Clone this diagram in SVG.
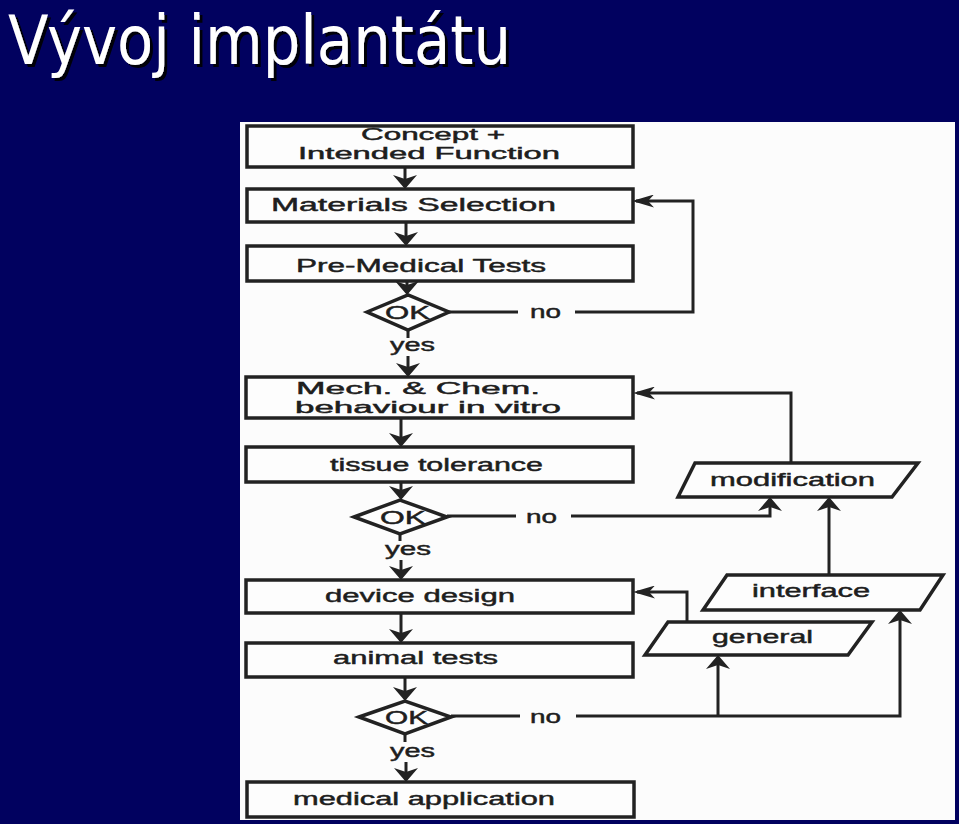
<svg xmlns="http://www.w3.org/2000/svg" width="959" height="824" viewBox="0 0 959 824">
<style>
.box{fill:#fdfdfd;stroke:#222;stroke-width:3.5}
.ln{fill:none;stroke:#222;stroke-width:3}
.t{font-family:"Liberation Sans",Arial,sans-serif;font-size:18px;fill:#1e1e1e;stroke:#1e1e1e;stroke-width:0.45}
.t2{font-size:16px}
.title{font-family:"DejaVu Sans",Verdana,sans-serif;font-size:68px;fill:#fff}
</style>
<defs>
<filter id="shadow" x="-5%" y="-20%" width="110%" height="140%">
<feDropShadow dx="3" dy="3" stdDeviation="0.6" flood-color="#000" flood-opacity="0.9"/>
</filter>
<marker id="av" markerUnits="userSpaceOnUse" viewBox="0 0 14 24" markerWidth="14" markerHeight="24" refX="12" refY="12" orient="auto">
<path d="M0,0 L14,12 L0,24 L4,12 z" fill="#222"/>
</marker>
<marker id="ah" markerUnits="userSpaceOnUse" viewBox="0 0 22 13" markerWidth="22" markerHeight="13" refX="18" refY="6.5" orient="auto">
<path d="M0,0 L22,6.5 L0,13 L6,6.5 z" fill="#222"/>
</marker>
</defs>
<rect x="0" y="0" width="959" height="824" fill="#01015f"/>
<g id="title">
<text class="title" x="8" y="64" textLength="503" lengthAdjust="spacingAndGlyphs" filter="url(#shadow)">Vývoj implantátu</text>
</g>
<rect x="240" y="122" width="715" height="698" fill="#fcfcfc"/>
<g id="connectors">
<path class="ln" d="M405,167 V187" marker-end="url(#av)"/>
<path class="ln" d="M406,222 V244" marker-end="url(#av)"/>
<path class="ln" d="M407,281 V293" marker-end="url(#av)"/>
<path class="ln" d="M408,330 V338"/>
<path class="ln" d="M408,356 V375" marker-end="url(#av)"/>
<path class="ln" d="M449,312 H518"/>
<path class="ln" d="M575,312 H693 V201 H636" marker-end="url(#ah)"/>
<path class="ln" d="M401,418 V445" marker-end="url(#av)"/>
<path class="ln" d="M401,482 V498" marker-end="url(#av)"/>
<path class="ln" d="M400,534 V541"/>
<path class="ln" d="M401,560 V578" marker-end="url(#av)"/>
<path class="ln" d="M447,516 H516"/>
<path class="ln" d="M571,516 H770 V499" marker-end="url(#av)"/>
<path class="ln" d="M791,463 V393 H637" marker-end="url(#ah)"/>
<path class="ln" d="M829,575 V499" marker-end="url(#av)"/>
<path class="ln" d="M401,613 V641" marker-end="url(#av)"/>
<path class="ln" d="M405,677 V699" marker-end="url(#av)"/>
<path class="ln" d="M405,734 V742"/>
<path class="ln" d="M406,762 V780" marker-end="url(#av)"/>
<path class="ln" d="M451,716 H520"/>
<path class="ln" d="M576,716 H900 V612" marker-end="url(#av)"/>
<path class="ln" d="M718,716 V657" marker-end="url(#av)"/>
<path class="ln" d="M687,622 V592 H637" marker-end="url(#ah)"/>
<text class="t" x="530" y="318" textLength="31" lengthAdjust="spacingAndGlyphs">no</text>
<text class="t" x="390" y="351" textLength="45" lengthAdjust="spacingAndGlyphs">yes</text>
<text class="t" x="526" y="523" textLength="31" lengthAdjust="spacingAndGlyphs">no</text>
<text class="t" x="385" y="555" textLength="46" lengthAdjust="spacingAndGlyphs">yes</text>
<text class="t" x="530" y="723" textLength="31" lengthAdjust="spacingAndGlyphs">no</text>
<text class="t" x="390" y="757" textLength="45" lengthAdjust="spacingAndGlyphs">yes</text>
</g>
<g id="concept">
<rect class="box" x="247" y="126" width="386" height="41"/>
<text class="t t2" x="361" y="140" textLength="144" lengthAdjust="spacingAndGlyphs">Concept +</text>
<text class="t t2" x="298" y="159" textLength="262" lengthAdjust="spacingAndGlyphs">Intended Function</text>
</g>
<g id="materials">
<rect class="box" x="247" y="189" width="386" height="33"/>
<text class="t" x="271" y="211" textLength="285" lengthAdjust="spacingAndGlyphs">Materials Selection</text>
</g>
<g id="premedical">
<rect class="box" x="247" y="246" width="386" height="35"/>
<text class="t" x="296" y="272" textLength="250" lengthAdjust="spacingAndGlyphs">Pre-Medical Tests</text>
</g>
<g id="ok1">
<polygon class="box" points="367,312 408,295 449,312 408,330"/>
<text class="t" x="385" y="319" textLength="45" lengthAdjust="spacingAndGlyphs">OK</text>
</g>
<g id="mech">
<rect class="box" x="246" y="377" width="387" height="41"/>
<text class="t t2" x="296" y="394" textLength="244" lengthAdjust="spacingAndGlyphs">Mech. &amp; Chem.</text>
<text class="t t2" x="295" y="413" textLength="266" lengthAdjust="spacingAndGlyphs">behaviour in vitro</text>
</g>
<g id="tissue">
<rect class="box" x="246" y="447" width="387" height="35"/>
<text class="t" x="330" y="471" textLength="213" lengthAdjust="spacingAndGlyphs">tissue tolerance</text>
</g>
<g id="ok2">
<polygon class="box" points="354,517 400,500 447,517 400,534"/>
<text class="t" x="380" y="524" textLength="46" lengthAdjust="spacingAndGlyphs">OK</text>
</g>
<g id="modification">
<polygon class="box" points="695,463 918,463 892,497 678,497"/>
<text class="t" x="710" y="486" textLength="165" lengthAdjust="spacingAndGlyphs">modification</text>
</g>
<g id="device">
<rect class="box" x="246" y="580" width="387" height="33"/>
<text class="t" x="325" y="602" textLength="190" lengthAdjust="spacingAndGlyphs">device design</text>
</g>
<g id="interface">
<polygon class="box" points="727,575 943,575 920,610 703,610"/>
<text class="t" x="752" y="597" textLength="118" lengthAdjust="spacingAndGlyphs">interface</text>
</g>
<g id="general">
<polygon class="box" points="668,622 872,622 848,655 645,655"/>
<text class="t" x="712" y="643" textLength="101" lengthAdjust="spacingAndGlyphs">general</text>
</g>
<g id="animal">
<rect class="box" x="246" y="643" width="387" height="34"/>
<text class="t" x="333" y="664" textLength="165" lengthAdjust="spacingAndGlyphs">animal tests</text>
</g>
<g id="ok3">
<polygon class="box" points="359,717 405,701 451,717 405,734"/>
<text class="t" x="385" y="724" textLength="43" lengthAdjust="spacingAndGlyphs">OK</text>
</g>
<g id="medical">
<rect class="box" x="247" y="782" width="387" height="35"/>
<text class="t" x="293" y="805" textLength="262" lengthAdjust="spacingAndGlyphs">medical application</text>
</g>
</svg>
